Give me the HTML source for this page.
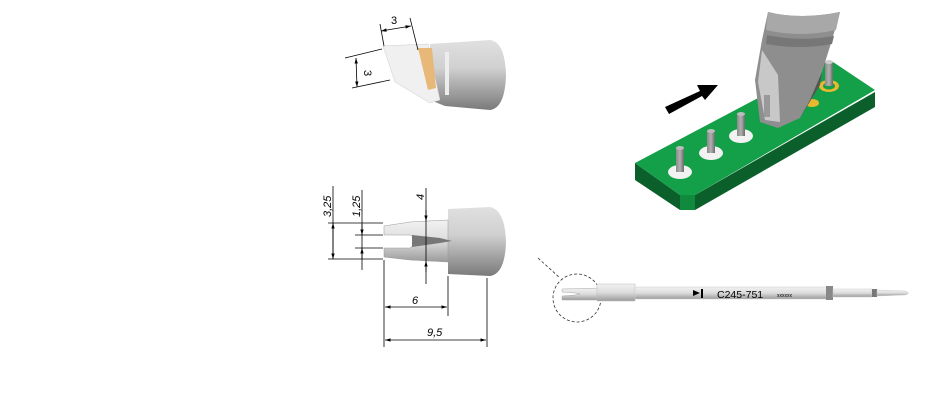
<!DOCTYPE html>
<html><head><meta charset="utf-8"><style>
html,body{margin:0;padding:0;background:#fff;width:930px;height:400px;overflow:hidden}
svg{display:block}
text{font-family:"Liberation Sans",sans-serif;font-style:italic;fill:#000}
text.n{font-style:normal}
</style></head><body>
<svg width="930" height="400" viewBox="0 0 930 400">
<defs>
<linearGradient id="gv" x1="0" y1="0" x2="0" y2="1">
<stop offset="0" stop-color="#e0e0e0"/><stop offset="0.4" stop-color="#d0d0d0"/><stop offset="1" stop-color="#7a7a7a"/></linearGradient>
<linearGradient id="gs" x1="0" y1="0" x2="0" y2="1">
<stop offset="0" stop-color="#f2f2f2"/><stop offset="0.5" stop-color="#dcdcdc"/><stop offset="1" stop-color="#9a9a9a"/></linearGradient>
<linearGradient id="gt" x1="0" y1="0" x2="1" y2="0">
<stop offset="0" stop-color="#8a8a8a"/><stop offset="0.5" stop-color="#b0b0b0"/><stop offset="1" stop-color="#6a6a6a"/></linearGradient>
<marker id="ar" viewBox="0 0 10 10" refX="10" refY="5" markerWidth="7" markerHeight="7" orient="auto-start-reverse"><path d="M0,2L10,5L0,8z" fill="#000"/></marker>
</defs>

<!-- top view tip -->
<path d="M430,44 L490,40 Q505,42 506,75 Q505,108 490,110 L445,106 L430,100 Z" fill="url(#gv)"/>
<path d="M383,46 L428,44 L440,100 L430,103 L395,82 Z" fill="#f0f0f0" stroke="#ccc" stroke-width="0.5"/>
<path d="M418,48 L432,48 L436,88 L428,90 Z" fill="#e8b878"/>
<path d="M445,52 L449,52 L449,95 L445,95 Z" fill="#ededed"/>
<g stroke="#000" stroke-width="0.8" fill="none">
<line x1="380" y1="24" x2="384" y2="46"/><line x1="410" y1="18" x2="418" y2="50"/>
<line x1="381" y1="31" x2="411" y2="26" marker-start="url(#ar)" marker-end="url(#ar)"/>
<line x1="345" y1="58" x2="382" y2="49"/><line x1="352" y1="88" x2="390" y2="80"/>
<line x1="356" y1="58" x2="357" y2="87" marker-start="url(#ar)" marker-end="url(#ar)"/>
</g>
<text class="n" x="391" y="24" font-size="11">3</text>
<text class="n" font-size="11" transform="translate(364,70) rotate(90)">3</text>

<!-- side view tip -->
<path d="M448,209 L490,207 Q505,210 506,242 Q505,274 490,276 L448,274 Z" fill="url(#gv)"/>
<path d="M384,226 L410,222 L448,220 L448,262 L410,260 L384,257 L384,248 L410,248 L420,240 L410,235 L384,235 Z" fill="url(#gs)" stroke="#999" stroke-width="0.5"/>
<path d="M412,235 L440,238 L452,241 L440,243 L412,247 Z" fill="#777"/>
<g stroke="#000" stroke-width="0.8" fill="none">
<line x1="328" y1="223" x2="383" y2="223"/><line x1="328" y1="259" x2="383" y2="259"/>
<line x1="355" y1="235" x2="383" y2="235"/><line x1="355" y1="248" x2="383" y2="248"/>
<line x1="333" y1="186" x2="333" y2="259"/>
<line x1="333" y1="223" x2="333" y2="259" marker-start="url(#ar)" marker-end="url(#ar)"/>
<line x1="362" y1="190" x2="362" y2="270"/>
<line x1="362" y1="224" x2="362" y2="235" marker-end="url(#ar)"/>
<line x1="362" y1="259" x2="362" y2="248" marker-end="url(#ar)"/>
<line x1="426" y1="188" x2="426" y2="284"/>
<line x1="426" y1="210" x2="426" y2="221" marker-end="url(#ar)"/>
<line x1="426" y1="272" x2="426" y2="261" marker-end="url(#ar)"/>
<line x1="384" y1="260" x2="384" y2="347"/><line x1="448" y1="276" x2="448" y2="316"/><line x1="487" y1="278" x2="487" y2="347"/>
<line x1="385" y1="307" x2="447" y2="307" marker-start="url(#ar)" marker-end="url(#ar)"/>
<line x1="385" y1="340" x2="486" y2="340" marker-start="url(#ar)" marker-end="url(#ar)"/>
</g>
<text font-size="11" transform="translate(331,217) rotate(-90)">3,25</text>
<text font-size="11" transform="translate(360,217) rotate(-90)">1,25</text>
<text font-size="11" transform="translate(424,200) rotate(-90)">4</text>
<text x="412" y="304" font-size="11">6</text>
<text x="427" y="336" font-size="11">9,5</text>

<!-- full tool -->
<line x1="538" y1="258" x2="560" y2="278" stroke="#333" stroke-width="0.8" stroke-dasharray="3,2"/>
<circle cx="577" cy="298" r="24" fill="none" stroke="#333" stroke-width="0.8" stroke-dasharray="3,2"/>
<path d="M562,289 L600,288 L600,300 L562,300 L562,296 L575,295 L580,294 L575,293 L562,292 Z" fill="url(#gs)" stroke="#aaa" stroke-width="0.5"/>
<rect x="597" y="284" width="38" height="17" fill="url(#gs)" stroke="#bbb" stroke-width="0.5"/>
<rect x="635" y="287" width="193" height="12" fill="url(#gs)" stroke="#ccc" stroke-width="0.5"/>
<path d="M693,290 L700,293 L693,296 Z" fill="#000"/><rect x="701" y="289" width="2" height="9" fill="#000"/>
<text class="n" x="717" y="298" font-size="10.5">C245-751</text>
<text class="n" x="777" y="297" font-size="5" fill="#555">xxxxxx</text>
<rect x="826" y="286" width="7" height="14" fill="#888"/>
<rect x="833" y="289" width="39" height="8" fill="url(#gs)" stroke="#ccc" stroke-width="0.5"/>
<rect x="872" y="289" width="5" height="8" fill="#777"/>
<path d="M877,290 L905,291 Q912,293 905,295 L877,296 Z" fill="url(#gs)" stroke="#ccc" stroke-width="0.5"/>

<!-- PCB -->
<polygon points="635,163 680,195 695,195 875,92 875,107 695,210 680,210 635,180" fill="#0b5f2b"/>
<polygon points="680,195 695,195 695,210 680,210" fill="#108a3c"/>
<polygon points="635,163 830,60 875,90 695,195 680,195" fill="#13a048"/>
<g>
<ellipse cx="680" cy="172" rx="12" ry="7" fill="#f2f2f2"/><rect x="676" y="148" width="8" height="24" fill="url(#gt)"/><ellipse cx="680" cy="148" rx="4" ry="2" fill="#bbb"/>
<ellipse cx="711" cy="153" rx="12" ry="7" fill="#f2f2f2"/><rect x="707" y="131" width="8" height="22" fill="url(#gt)"/><ellipse cx="711" cy="131" rx="4" ry="2" fill="#bbb"/>
<ellipse cx="741" cy="136" rx="12" ry="7" fill="#f2f2f2"/><rect x="737" y="114" width="8" height="22" fill="url(#gt)"/><ellipse cx="741" cy="114" rx="4" ry="2" fill="#bbb"/>
<ellipse cx="829" cy="86" rx="10" ry="6" fill="#e8b830"/><ellipse cx="829" cy="86" rx="6" ry="3.5" fill="#13a048"/>
<rect x="825" y="62" width="8" height="24" fill="url(#gt)"/><ellipse cx="829" cy="62" rx="4" ry="2" fill="#ccc"/>
<ellipse cx="812" cy="103" rx="7" ry="4" fill="#e8b830"/>
</g>
<!-- tool on PCB -->
<path d="M768,12 Q800,20 840,12 L832,40 L822,72 L810,100 L800,118 L778,128 L760,122 L755,80 L762,40 Z" fill="#8e8e8e"/>
<path d="M768,12 Q800,20 840,12 L836,30 Q800,38 766,30 Z" fill="#a8a8a8"/>
<path d="M767,35 Q800,42 834,36 L832,44 Q800,50 766,44 Z" fill="#777"/>
<path d="M762,50 L778,75 L780,122 L765,120 L758,82 Z" fill="#c8c8c8"/>
<rect x="764" y="95" width="6" height="22" fill="#999"/>
<path d="M800,118 L820,85 L822,72 L810,100 Z" fill="#555"/>
<!-- arrow -->
<polygon points="665,107 700,91 697,85 718,85 705,100 702,96 669,114" fill="#000"/>
</svg>
</body></html>
